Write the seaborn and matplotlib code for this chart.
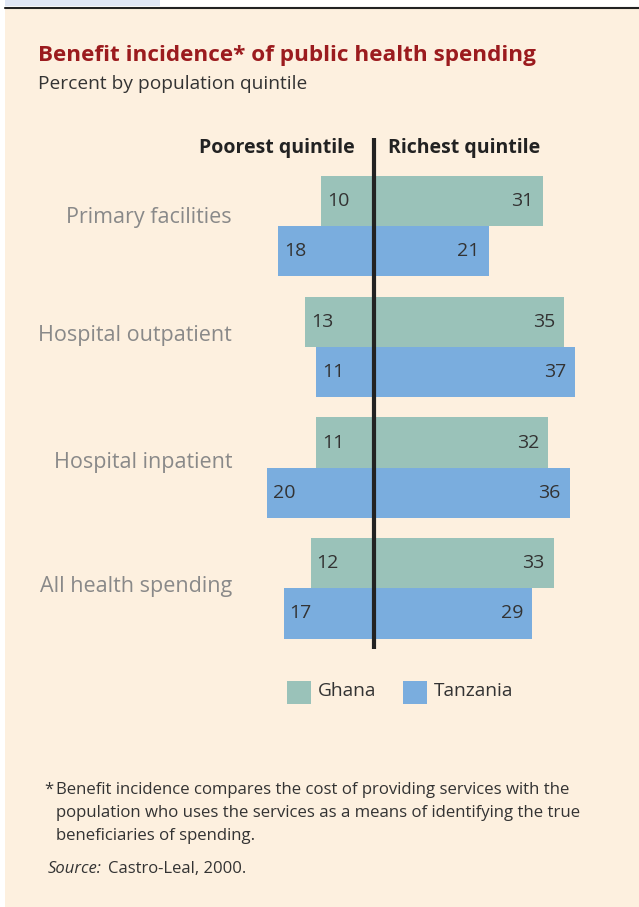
import matplotlib
matplotlib.use("Agg")
import matplotlib.pyplot as plt
from matplotlib.patches import Rectangle
import seaborn as sns
import pandas as pd

categories = ["Primary facilities", "Hospital outpatient", "Hospital inpatient", "All health spending"]
countries = ["Ghana", "Tanzania"]
ghana_poorest = [10, 13, 11, 12]
ghana_richest = [31, 35, 32, 33]
tanzania_poorest = [18, 11, 20, 17]
tanzania_richest = [21, 37, 36, 29]

colors = {"Ghana": "#9ac2b9", "Tanzania": "#7aadde"}
BG = "#fdf0df"
FONT = ["Open Sans", "DejaVu Sans"]

rows = []
for i, c in enumerate(categories):
    rows.append(dict(category=c, country="Ghana", poorest=ghana_poorest[i], richest=ghana_richest[i]))
    rows.append(dict(category=c, country="Tanzania", poorest=tanzania_poorest[i], richest=tanzania_richest[i]))
df = pd.DataFrame(rows)
df["neg_poorest"] = -df["poorest"]

sns.set_theme(style="white")
plt.rcParams["font.family"] = FONT

W, H = 639, 907
fig = plt.figure(figsize=(W / 100, H / 100), dpi=100)
fig.patch.set_facecolor("white")

def fx(x):
    return x / W

def fy(y):
    return 1 - y / H

# background panels
fig.patches.append(Rectangle((fx(5), fy(907)), fx(634), (907 - 9) / H, transform=fig.transFigure,
                             facecolor=BG, edgecolor="none", zorder=-5))
fig.patches.append(Rectangle((fx(5), fy(6)), fx(155), 6 / H, transform=fig.transFigure,
                             facecolor="#dfe6f4", edgecolor="none", zorder=-5))
fig.lines.append(plt.Line2D([fx(5), 1], [fy(7.5), fy(7.5)], transform=fig.transFigure,
                            color="#222222", lw=1.5, zorder=-4))

# axes: full width, vertical span of the centre line
y_top, y_bot = 138, 649
ax = fig.add_axes([0, fy(y_bot), 1, (y_bot - y_top) / H])
ax.set_facecolor("none")
ax.set_zorder(2)

scale = 5.4  # px per unit
x0 = 375.3
sns.barplot(data=df, y="category", x="richest", hue="country", palette=colors, orient="h",
            width=0.83, ax=ax, legend=False, saturation=1, order=categories, hue_order=countries)
sns.barplot(data=df, y="category", x="neg_poorest", hue="country", palette=colors, orient="h",
            width=0.83, ax=ax, legend=False, saturation=1, order=categories, hue_order=countries)
for p in ax.patches:
    p.set_edgecolor("none")

ax.set_xlim(-x0 / scale, (W - x0) / scale)
pxu = 120.8
ax.set_ylim((y_bot - 226) / pxu, (y_top - 226) / pxu)
ax.axvline(-0.15, color="#222222", lw=3, zorder=5)
ax.set_axis_off()

# value labels
off = 0.2075
for i in range(len(categories)):
    for j, (pv, rv) in enumerate([(ghana_poorest[i], ghana_richest[i]),
                                   (tanzania_poorest[i], tanzania_richest[i])]):
        yy = i - off if j == 0 else i + off
        ax.text(-pv + 6 / scale, yy, str(pv), ha="left", va="center", fontsize=14,
                color="#333333", zorder=6)
        ax.text(rv - 9 / scale, yy, str(rv), ha="right", va="center", fontsize=14,
                color="#333333", zorder=6)

# category labels (baseline offsets in px from group centre)
label_shift = [-3, -6, 0, 3.5]
for i, c in enumerate(categories):
    ax.text(-(x0 - 232) / scale, i + label_shift[i] / pxu, c, ha="right", va="baseline",
            fontsize=15.5, color="#898989")

# headers
fig.text(fx(355), fy(148), "Poorest quintile", ha="right", va="center", fontsize=14,
         fontweight="bold", color="#222222")
fig.text(fx(388), fy(148), "Richest quintile", ha="left", va="center", fontsize=14,
         fontweight="bold", color="#222222")

# title
fig.text(fx(38), fy(55), "Benefit incidence* of public health spending", ha="left", va="center",
         fontsize=16.2, fontweight="bold", color="#9b1b1e")
fig.text(fx(38), fy(84), "Percent by population quintile", ha="left", va="center",
         fontsize=13.8, color="#333333")

# legend
for xs, name in [(287, "Ghana"), (403, "Tanzania")]:
    fig.patches.append(Rectangle((fx(xs), fy(704)), 24 / W, 23 / H, transform=fig.transFigure,
                                 facecolor=colors[name], edgecolor="none"))
    fig.text(fx(xs + 31), fy(691), name, ha="left", va="center", fontsize=13.8, color="#333333")

# footnote
fig.text(fx(44), fy(790), "*", ha="left", va="center", fontsize=12, color="#333333")
foot = ["Benefit incidence compares the cost of providing services with the",
        "population who uses the services as a means of identifying the true",
        "beneficiaries of spending."]
for k, line in enumerate(foot):
    fig.text(fx(56), fy(790 + 23 * k), line, ha="left", va="center", fontsize=12.1, color="#333333")
fig.text(fx(48), fy(869), "Source:", ha="left", va="center", fontsize=12, color="#333333",
         style="italic")
fig.text(fx(108), fy(869), "Castro-Leal, 2000.", ha="left", va="center", fontsize=12, color="#333333")

fig.savefig("out.png", dpi=100, facecolor=fig.get_facecolor())
